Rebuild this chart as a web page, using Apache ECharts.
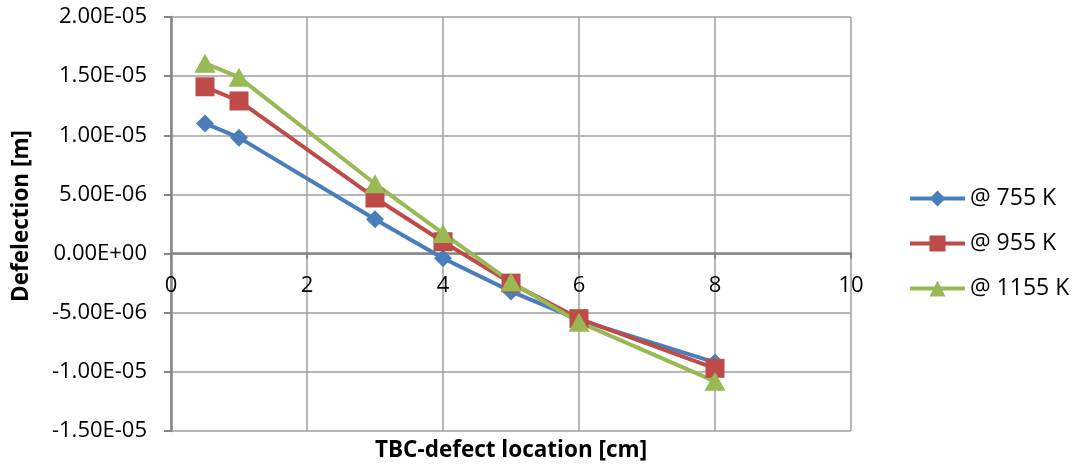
<!DOCTYPE html>
<html>
<head>
<meta charset="utf-8">
<script src="https://cdn.jsdelivr.net/npm/echarts@6/dist/echarts.min.js"></script>
<style>
  html, body { margin: 0; padding: 0; background: #ffffff; }
  #chart { width: 1074px; height: 470px; }
</style>
</head>
<body>
<div id="chart"></div>
<script>
// TBC-defect location along the specimen [cm]
const locations = [0.5, 1, 3, 4, 5, 6, 8];

// Deflection [m] at each defect location, one list per temperature
const seriesNames = ['@ 755 K', '@ 955 K', '@ 1155 K'];
const defl755  = [1.10e-5, 9.8e-6, 2.9e-6, -0.4e-6, -3.2e-6, -5.6e-6, -9.2e-6];
const defl955  = [1.41e-5, 1.29e-5, 4.7e-6, 1.0e-6, -2.5e-6, -5.5e-6, -9.7e-6];
const defl1155 = [1.61e-5, 1.49e-5, 5.9e-6, 1.7e-6, -2.4e-6, -5.8e-6, -1.08e-5];

const seriesValues = [defl755, defl955, defl1155];
const seriesColors = ['#4a7ebb', '#be4b48', '#98b954'];
const seriesSymbols = ['diamond', 'rect', 'triangle'];
const symbolSizes = [18, 19, [21, 19]];

const FONT = '"Open Sans", "Liberation Sans", sans-serif';

// plot frame and value range
const GRID = { left: 171, right: 223, top: 17, bottom: 39 };
const Y_MIN = -1.5e-5, Y_MAX = 2.0e-5;
const CHART_H = 470;

// Excel-style scientific tick labels, e.g. 5.00E-06
function sci(v) {
  const s = Number(v).toExponential(2);
  const m = s.match(/^(-?[\d.]+)e([+-])(\d+)$/);
  if (!m) return s;
  const exp = m[3].length < 2 ? '0' + m[3] : m[3];
  return m[1] + 'E' + m[2] + exp;
}

// the horizontal axis crosses the value axis at zero: shift it up from the frame bottom
const plotH = CHART_H - GRID.top - GRID.bottom;
const zeroShift = plotH * (0 - Y_MIN) / (Y_MAX - Y_MIN);

const chart = echarts.init(document.getElementById('chart'), null, { renderer: 'canvas' });

const series = seriesNames.map((name, i) => ({
  name: name,
  type: 'line',
  data: locations.map((x, k) => [x, seriesValues[i][k]]),
  symbol: seriesSymbols[i],
  symbolSize: symbolSizes[i],
  lineStyle: { color: seriesColors[i], width: 4 },
  itemStyle: { color: seriesColors[i] },
  emphasis: { disabled: true },
  animation: false
}));

chart.setOption({
  animation: false,
  backgroundColor: '#ffffff',
  grid: Object.assign({ containLabel: false, outerBoundsMode: 'none' }, GRID),
  legend: {
    orient: 'vertical',
    left: 903,
    top: 182,
    itemWidth: 55,
    itemHeight: 20,
    itemGap: 22,
    lineStyle: { width: 4 },
    textStyle: { fontFamily: FONT, fontSize: 23, color: '#000000' },
    data: seriesNames
  },
  xAxis: {
    type: 'value',
    min: 0,
    max: 10,
    interval: 2,
    offset: -zeroShift,
    name: 'TBC-defect location [cm]',
    nameLocation: 'middle',
    nameGap: 186,
    nameTextStyle: { fontFamily: FONT, fontSize: 22.5, fontWeight: 'bold', color: '#000000', verticalAlign: 'top' },
    axisLine: { onZero: false, lineStyle: { color: '#868686', width: 2.5 } },
    axisTick: { show: true, inside: false, length: 5, lineStyle: { color: '#868686', width: 2 } },
    axisLabel: { fontFamily: FONT, fontSize: 22, color: '#000000', margin: 21 },
    splitLine: { show: true, lineStyle: { color: '#a0a0a0', width: 1.5 } }
  },
  yAxis: {
    type: 'value',
    min: Y_MIN,
    max: Y_MAX,
    interval: 5e-6,
    name: 'Defelection [m]',
    nameLocation: 'middle',
    nameGap: 138,
    nameTextStyle: { fontFamily: FONT, fontSize: 22.5, fontWeight: 'bold', color: '#000000', padding: [0, 0, 0, 16] },
    axisLine: { show: true, onZero: false, lineStyle: { color: '#868686', width: 2.5 } },
    axisTick: { show: true, inside: false, length: 7, lineStyle: { color: '#868686', width: 2 } },
    axisLabel: { fontFamily: FONT, fontSize: 22, color: '#000000', margin: 24, formatter: sci },
    splitLine: { show: true, lineStyle: { color: '#a0a0a0', width: 1.5 } }
  },
  series: series
});
</script>
</body>
</html>
